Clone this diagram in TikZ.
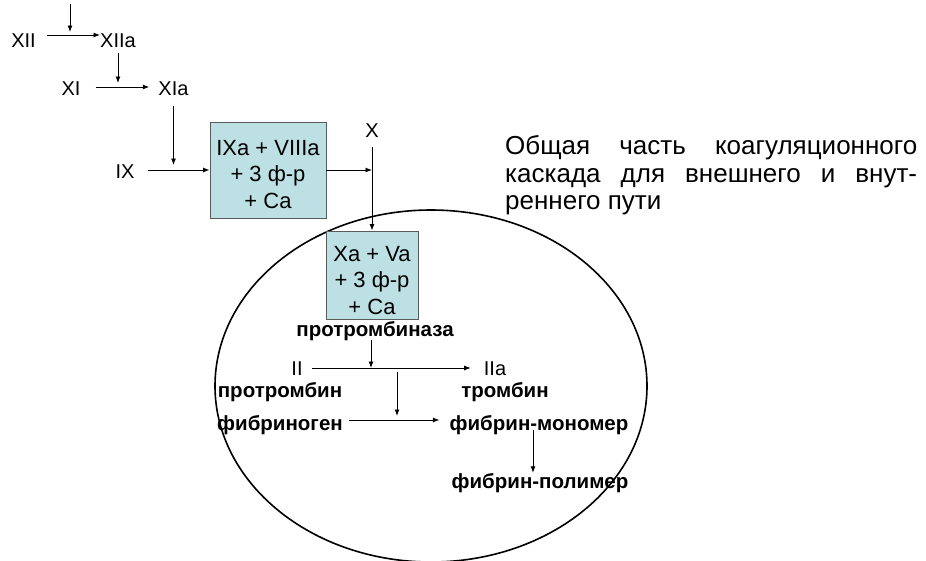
\documentclass[tikz,border=0pt]{standalone}
\usepackage{fontspec}
\setmainfont{Liberation Sans}
\usetikzlibrary{arrows.meta}
\definecolor{boxfill}{RGB}{189,224,228}
\definecolor{boxline}{RGB}{90,90,90}

\begin{document}
\begin{tikzpicture}[x=1pt,y=-1pt,
    arr/.style={-{Latex[length=6.5pt,width=5pt]},line width=0.9pt},
    lbl/.style={anchor=base,inner sep=0pt,font=\fontsize{20}{24}\selectfont},
    blbl/.style={anchor=base,inner sep=0pt,font=\fontsize{20.5}{24}\selectfont\bfseries},
    cbox/.style={draw=boxline,fill=boxfill,line width=0.9pt,align=center,inner sep=0pt,
        font=\fontsize{22}{26.5}\selectfont}]
    \useasboundingbox (0,0) rectangle (926,560);
    \clip (0,0) rectangle (926,560);
    % common part of the cascade
    \draw[line width=1.6pt] (431,386) ellipse [x radius=216pt, y radius=176pt];
    % contact factors
    \node[lbl] (xii) at (23.5,47) {XII};
    \node[lbl] (xiia) at (118,47) {XIIa};
    \node[lbl] (xi) at (71,95) {XI};
    \node[lbl] (xia) at (173.5,95) {XIa};
    \node[lbl] (ix) at (125,178) {IX};
    \node[lbl] (xlab) at (372,137) {X};
    % tenase and prothrombinase complexes
    \node[cbox,minimum width=116pt,minimum height=96pt] (box1) at (268,170)
        {\rule{0pt}{24pt}IXa + VIIIa\\+ 3 ф-р\\+ Ca};
    \node[cbox,minimum width=92pt,minimum height=88pt] (box2) at (372,275)
        {\rule{0pt}{26pt}Xa + Va\\+ 3 ф-р\\+ Ca};
    \node[blbl] (ptase) at (375,336) {протромбиназа};
    % thrombin and fibrin
    \node[lbl] (ii) at (297,375) {II};
    \node[lbl] (iia) at (495,375) {IIa};
    \node[blbl] (ptn) at (280,397) {протромбин};
    \node[blbl] (thr) at (505,397) {тромбин};
    \node[blbl] (fgn) at (280,430) {фибриноген};
    \node[blbl] (fmon) at (539,430) {фибрин-мономер};
    \node[blbl] (fpol) at (540,488) {фибрин-полимер};
    % caption on the right
    \node[anchor=north west,inner sep=0pt,align=left,font=\fontsize{26}{27.5}\selectfont] (note) at (505,135.5)
        {\makebox[412pt][s]{Общая часть коагуляционного}\\
         \makebox[412pt][s]{каскада для внешнего и внут-}\\
         реннего пути};
    % arrows
    \coordinate (kin) at (70,4);
    \coordinate (kout) at (70,32);
    \draw[arr] (kin) -- (kout);
    \draw[arr] ([xshift=11pt,yshift=12pt]xii.base east) -- ([yshift=12pt]xiia.base west);
    \draw[arr] ([yshift=-6pt]xiia.south) -- ([yshift=12pt]xiia.south |- xi.base);
    \draw[arr] ([xshift=15pt,yshift=8pt]xi.base east) -- ([xshift=-9pt,yshift=8pt]xia.base west);
    \draw[arr] ([yshift=-11pt]xia.south) -- ([yshift=13pt]xia.south |- ix.base);
    \draw[arr] ([xshift=13pt]ix.east |- box1.west) -- (box1.west);
    \draw[arr] (box1.east) -- (box1.east -| xlab.south);
    \draw[arr] ([yshift=-10pt]xlab.south) -- (box2.north);
    \draw[arr] ([xshift=-4pt]ptase.south) -- ([xshift=-4pt,yshift=7pt]ptase.south |- ii.base);
    \draw[arr] ([xshift=9pt,yshift=7pt]ii.base east) -- ([xshift=-13pt,yshift=7pt]iia.base west);
    \coordinate (th0) at (397,372);
    \coordinate (th1) at (397,416);
    \draw[arr] (th0) -- (th1);
    \draw[arr] ([xshift=6pt,yshift=10pt]fgn.base east) -- ([xshift=-10pt,yshift=10pt]fmon.base west);
    \draw[arr] ([xshift=-6pt,yshift=4pt]fmon.south) -- ([xshift=-7pt]fpol.north);
\end{tikzpicture}
\end{document}
